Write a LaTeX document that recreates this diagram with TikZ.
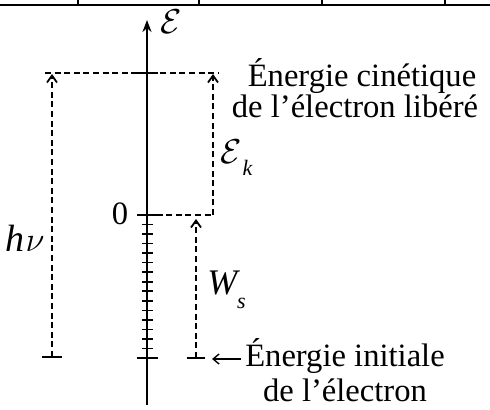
\documentclass[tikz,border=0pt]{standalone}
\usepackage{fontspec}
\setmainfont{Liberation Serif}
\usetikzlibrary{arrows.meta}
\begin{document}
\begin{tikzpicture}[x=0.5pt,y=-0.5pt,
  axis/.style={line width=1pt},
  tickmark/.style={line width=0.8pt},
  bigtick/.style={line width=0.9pt},
  dashv/.style={line width=1.1pt, dash pattern=on 3pt off 1.8pt},
  dashh/.style={line width=0.6pt, dash pattern=on 3pt off 1.8pt},
  dasharrow/.style={dashv, -{Straight Barb[length=3.5pt,width=5pt,line width=0.9pt]}},
  lbl/.style={inner sep=0pt, font=\fontsize{16.3}{18}\selectfont},
  sym/.style={inner sep=0pt, font=\fontsize{17}{18}\selectfont}]
\useasboundingbox (0,0) rectangle (490,410);
% fragment of table above
\draw[line width=1pt] (0,5) -- (490,5);
\foreach \x in {78,199,322,445} \draw[line width=1pt] (\x,0) -- (\x,5);
% axis
\coordinate (top) at (147,20);
\coordinate (bot) at (147,405);
\draw[axis, -{Stealth[length=6pt,width=4.5pt]}] (bot) -- (top);
\node[sym] (elab) at (171,22) {$\mathcal{E}$};
% small ticks
\foreach \i in {1,...,14} \draw[tickmark] (142,{215+\i*9.53}) -- (153,{215+\i*9.53});
% key levels
\coordinate (lvltop) at (147,73);
\coordinate (lvlzero) at (147,215);
\coordinate (lvlbot) at (147,358);
\draw[bigtick] (137,73) -- (158,73);
\draw[bigtick] (137,215) -- (158,215);
\draw[bigtick] (137,358) -- (158,358);
\node[lbl] (zero) at (120,214) {0};
% top dashed line
\coordinate (hl) at (45,73);
\coordinate (hr) at (218,73);
\draw[dashh] (hl) -- (hr);
% h nu arrow
\coordinate (hb) at (52,357);
\coordinate (ht) at (52,74);
\draw[bigtick] (42,357) -- (62,357);
\draw[dasharrow] (hb) -- (ht);
\node[sym, font=\fontsize{19}{20}\selectfont] (hnu) at (25,238) {\textit{h}\kern0.5pt$\nu$};
% zero-level dashed + Ek arrow
\coordinate (ekb) at (213,215);
\coordinate (ekt) at (213,74);
\draw[dashv] (lvlzero) -- (ekb);
\draw[dasharrow] (ekb) -- (ekt);
\node[sym, anchor=west] (ek) at (220,158) {$\mathcal{E}$\kern0.5pt\raisebox{-6pt}{\fontsize{11}{11}\selectfont\textit{k}}};
% Ws arrow
\coordinate (wsb) at (196,358);
\coordinate (wst) at (196,219);
\draw[bigtick] (187,358) -- (205,358);
\draw[dasharrow] (wsb) -- (wst);
\node[sym, anchor=west, font=\fontsize{18}{18}\selectfont] (ws) at (207,290) {\textit{W}\kern-1.5pt\raisebox{-7pt}{\fontsize{11}{11}\selectfont\textit{s}}};
% right labels
\node[lbl, anchor=base] (kin1) at (362,87) {Énergie cinétique};
\node[lbl, anchor=base] (kin2) at (355,118) {de l’électron libéré};
\node[lbl, anchor=base] (ini1) at (345,366) {Énergie initiale};
\node[lbl, anchor=base] (ini2) at (345,401) {de l’électron};
\coordinate (arrend) at (212,359);
\draw[line width=0.7pt, -{Straight Barb[length=3pt,width=5pt,line width=0.7pt]}] ([xshift=-2pt]ini1.west |- arrend) -- (arrend);
\end{tikzpicture}
\end{document}
